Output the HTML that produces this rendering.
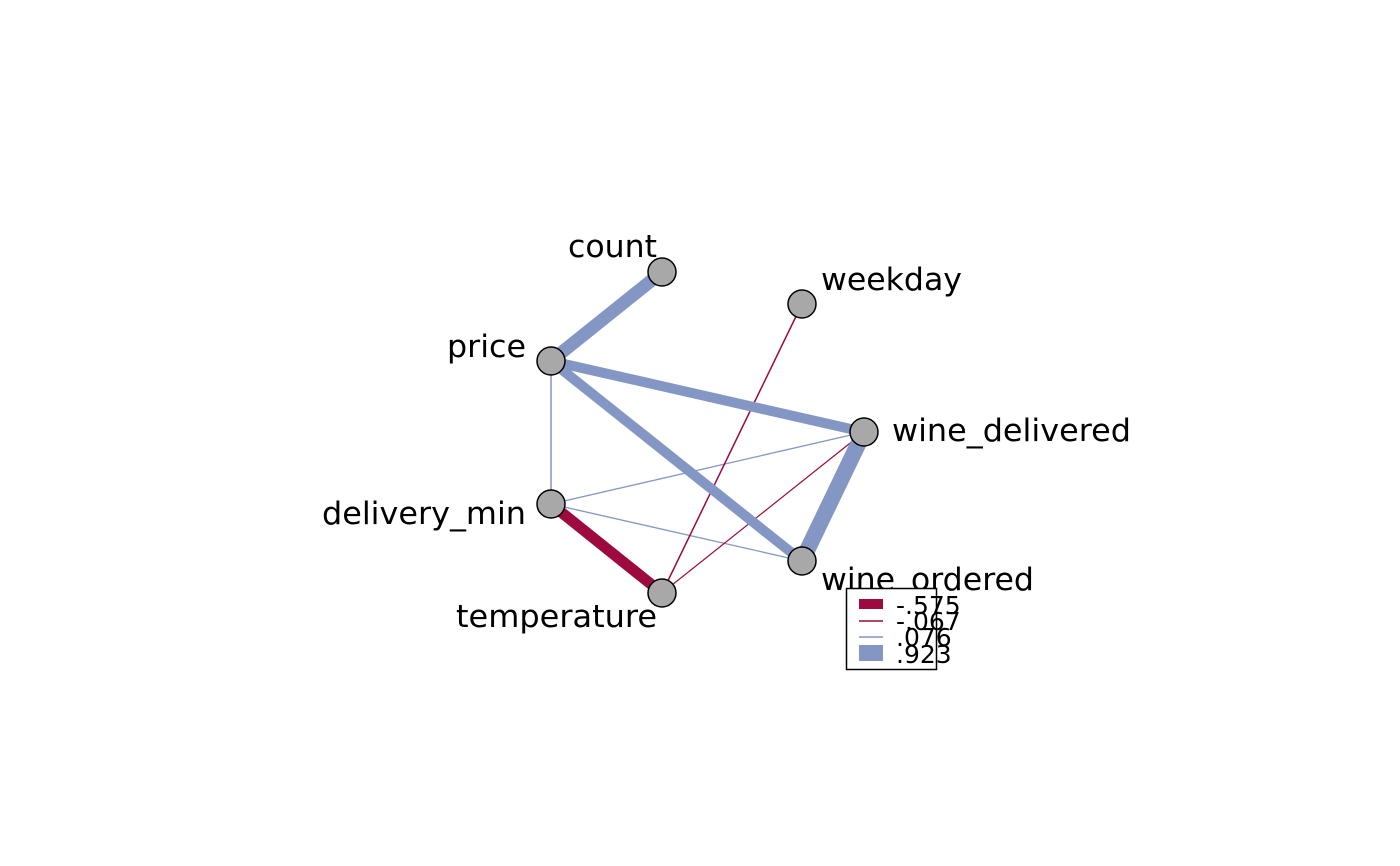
<!DOCTYPE html>
<html><head><style>html,body{margin:0;padding:0;background:#fff;}svg{display:block;}</style></head>
<body>
<svg width="1400" height="866" xmlns="http://www.w3.org/2000/svg" font-family="DejaVu Sans, Liberation Sans, sans-serif">
<rect width="1400" height="866" fill="#fff"/>
<g stroke-linecap="butt">
<line x1="551" y1="361" x2="551" y2="504" stroke="#8496c4" stroke-width="1.5"/>
<line x1="551" y1="504" x2="864" y2="432" stroke="#8496c4" stroke-width="1.3"/>
<line x1="551" y1="504" x2="802" y2="561" stroke="#8496c4" stroke-width="1.3"/>
<line x1="802" y1="304" x2="662" y2="593" stroke="#9c0a40" stroke-width="1.5"/>
<line x1="864" y1="432" x2="662" y2="593" stroke="#9c0a40" stroke-width="1.2"/>
<line x1="662" y1="272" x2="551" y2="361" stroke="#8496c4" stroke-width="13"/>
<line x1="551" y1="361" x2="864" y2="432" stroke="#8496c4" stroke-width="10"/>
<line x1="551" y1="361" x2="802" y2="561" stroke="#8496c4" stroke-width="10"/>
<line x1="864" y1="432" x2="802" y2="561" stroke="#8496c4" stroke-width="16"/>
<line x1="551" y1="504" x2="662" y2="593" stroke="#9c0a40" stroke-width="11"/>
</g>
<g fill="#a8a8a8" stroke="#000" stroke-width="1.5">
<circle cx="662" cy="272" r="14"/><circle cx="802" cy="304" r="14"/><circle cx="551" cy="361" r="14"/>
<circle cx="864" cy="432" r="14"/><circle cx="551" cy="504" r="14"/><circle cx="802" cy="561" r="14"/>
<circle cx="662" cy="593" r="14"/>
</g>
<g font-size="31" fill="#000">
<text x="657" y="257" text-anchor="end" textLength="89" lengthAdjust="spacingAndGlyphs">count</text>
<text x="821" y="290" textLength="141" lengthAdjust="spacingAndGlyphs">weekday</text>
<text x="526" y="357" text-anchor="end" textLength="79" lengthAdjust="spacingAndGlyphs">price</text>
<text x="892" y="441" textLength="239" lengthAdjust="spacingAndGlyphs">wine_delivered</text>
<text x="526" y="524" text-anchor="end" textLength="204" lengthAdjust="spacingAndGlyphs">delivery_min</text>
<text x="821" y="590" textLength="213" lengthAdjust="spacingAndGlyphs">wine_ordered</text>
<text x="657" y="627" text-anchor="end" textLength="201" lengthAdjust="spacingAndGlyphs">temperature</text>
</g>
<rect x="846.5" y="588.5" width="90" height="81" fill="#fff" stroke="#000" stroke-width="1.5"/>
<rect x="859" y="599" width="24" height="10" fill="#9c0a40"/>
<line x1="859" y1="621" x2="883" y2="621" stroke="#9c0a40" stroke-width="1.5"/>
<line x1="859" y1="637" x2="883" y2="637" stroke="#8496c4" stroke-width="1.5"/>
<rect x="859" y="645" width="24" height="16" fill="#8496c4"/>
<g font-size="25" fill="#000">
<text x="896" y="614">-.575</text>
<text x="896" y="630">-.067</text>
<text x="896" y="646">.076</text>
<text x="896" y="663">.923</text>
</g>
</svg>
</body></html>
